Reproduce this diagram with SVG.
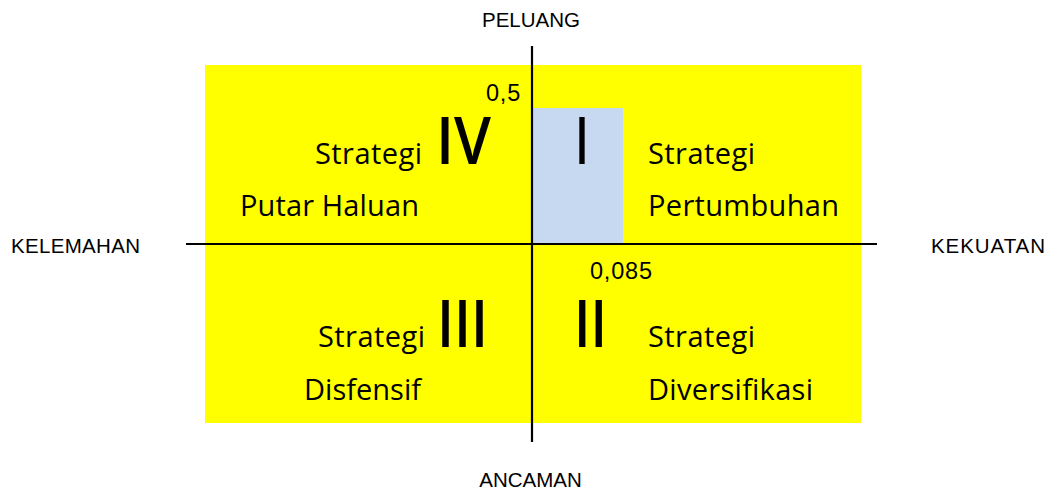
<svg xmlns="http://www.w3.org/2000/svg" width="1049" height="492" viewBox="0 0 1049 492">
<style>
.axl{font-family:"Liberation Sans",Arial,sans-serif;font-size:20.5px;fill:#000}
.num{font-family:"Liberation Sans",Arial,sans-serif;font-size:23.5px;letter-spacing:0.8px;fill:#000}
.lbl{font-family:"Open Sans","Noto Sans",sans-serif;font-size:29px;fill:#000}
.rom{font-family:"Open Sans","Noto Sans",sans-serif;font-size:66px;font-weight:600;fill:#000}
.ax{stroke:#000;stroke-width:2.2;fill:none}
</style>
<rect x="0" y="0" width="1049" height="492" fill="#fff"/>
<g id="quadrants">
<rect x="205" y="65" width="656" height="358" fill="#FFFF00"/>
<rect id="position" x="533" y="108" width="90" height="136" fill="#C6D9F0"/>
</g>
<g id="connectors">
<line class="ax" x1="532" y1="46" x2="532" y2="442"/>
<line class="ax" x1="186" y1="244" x2="877" y2="244"/>
</g>
<g id="q4">
<text class="lbl" x="315" y="164" textLength="107">Strategi</text>
<text class="rom" x="436" y="164" textLength="55" lengthAdjust="spacingAndGlyphs">IV</text>
<text class="lbl" x="240" y="216" textLength="179">Putar Haluan</text>
<text class="num" x="486" y="101">0,5</text>
</g>
<g id="q1">
<text class="rom" x="575" y="164" textLength="14" lengthAdjust="spacingAndGlyphs">I</text>
<text class="lbl" x="648" y="164" textLength="107">Strategi</text>
<text class="lbl" x="648" y="216" textLength="191">Pertumbuhan</text>
</g>
<g id="q3">
<text class="lbl" x="318" y="347" textLength="107">Strategi</text>
<text class="rom" x="437" y="347" textLength="51" lengthAdjust="spacingAndGlyphs">III</text>
<text class="lbl" x="304" y="400" textLength="117">Disfensif</text>
</g>
<g id="q2">
<text class="num" x="590" y="279">0,085</text>
<text class="rom" x="574" y="347" textLength="33" lengthAdjust="spacingAndGlyphs">II</text>
<text class="lbl" x="648" y="347" textLength="107">Strategi</text>
<text class="lbl" x="648" y="400" textLength="165">Diversifikasi</text>
</g>
<g id="axis-labels">
<text class="axl" x="531" y="27" text-anchor="middle">PELUANG</text>
<text class="axl" x="11" y="253" textLength="129">KELEMAHAN</text>
<text class="axl" x="931" y="253" textLength="114">KEKUATAN</text>
<text class="axl" x="530.5" y="487" text-anchor="middle">ANCAMAN</text>
</g>
</svg>
